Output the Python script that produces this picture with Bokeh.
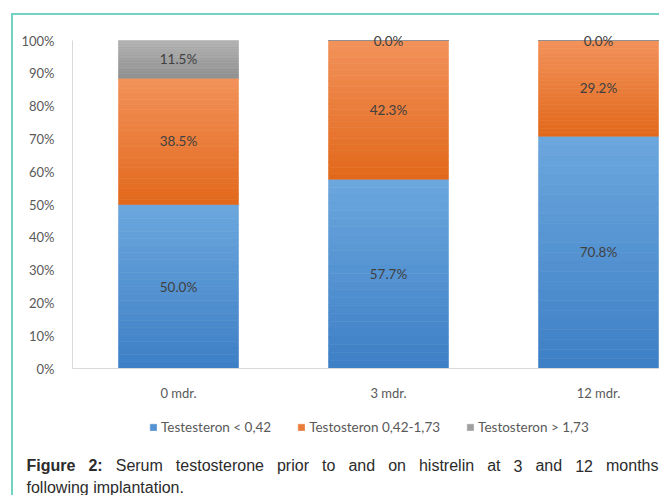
import numpy as np
from bokeh.plotting import figure
from bokeh.layouts import column
from bokeh.models import (ColumnDataSource, Range1d, FixedTicker, Legend, LegendItem,
                          Label, LabelSet)
from bokeh.embed import file_html
from bokeh.resources import INLINE
from bokeh.core.properties import value

# ---------------- data ----------------
categories = ["0 mdr.", "3 mdr.", "12 mdr."]
series_names = ["Testesteron < 0,42", "Testosteron 0,42-1,73", "Testosteron > 1,73"]
low_vals = [50.0, 57.7, 70.8]
mid_vals = [38.5, 42.3, 29.2]
high_vals = [11.5, 0.0, 0.0]
y_tick_values = [0, 10, 20, 30, 40, 50, 60, 70, 80, 90, 100]
y_tick_labels = ["0%", "10%", "20%", "30%", "40%", "50%", "60%", "70%", "80%", "90%", "100%"]
caption_bold = "Figure 2:"
caption_line1 = "Serum testosterone prior to and on histrelin at 3 and 12 months"
caption_line2 = "following implantation."

# ---------------- styles / layout ----------------
top_colors = ["#6ca7de", "#f2925a", "#b2b2b2"]
bottom_colors = ["#3d7fc5", "#e2681b", "#8f8f8f"]
CHART_FONT = "Lato"
CAP_FONT = "Liberation Sans"
BAR_W = 0.571
N_BANDS = 24
W, H = 659, 495
# pixel geometry of the plot area inside the canvas
PX_LEFT, PX_TOP, PX_ZERO = 72, 40, 368
PX_CAT0, PX_STEP = 178, 210
px_per_pct = (PX_ZERO - PX_TOP) / 100.0
x_lo = (0 - PX_CAT0) / PX_STEP
x_hi = (W - PX_CAT0) / PX_STEP
y_hi = 100 + PX_TOP / px_per_pct
y_lo = -(H - PX_ZERO) / px_per_pct
yaxis_x = (PX_LEFT - PX_CAT0) / PX_STEP


def hex2rgb(h):
    h = h.lstrip("#")
    return np.array([int(h[i:i + 2], 16) for i in (0, 2, 4)], dtype=float)


def mix(c_top, c_bot, t):
    a, b = hex2rgb(c_top), hex2rgb(c_bot)
    c = a * (1 - t) + b * t
    return "#%02x%02x%02x" % tuple(int(round(v)) for v in c)


p = figure(width=W, height=H, output_backend="svg", toolbar_location=None,
           x_range=Range1d(x_lo, x_hi), y_range=Range1d(y_lo, y_hi),
           min_border_left=0, min_border_right=0, min_border_top=0, min_border_bottom=0)
p.border_fill_color = None
p.background_fill_color = None
p.outline_line_color = None
p.xgrid.visible = False
p.ygrid.visible = False

series = [low_vals, mid_vals, high_vals]
xs = list(range(len(categories)))
renderers = []
base = [0.0] * len(categories)
mids_all = []
for s, vals in enumerate(series):
    bx, bb, bt, bc = [], [], [], []
    for i, v in enumerate(vals):
        b0 = base[i]
        for k in range(N_BANDS):
            lo = b0 + v * (N_BANDS - 1 - k) / N_BANDS
            hi = b0 + v * (N_BANDS - k) / N_BANDS
            bx.append(xs[i])
            bb.append(lo)
            bt.append(hi)
            bc.append(mix(top_colors[s], bottom_colors[s], (k + 0.5) / N_BANDS))
    src = ColumnDataSource(dict(x=bx, bottom=bb, top=bt, color=bc))
    r = p.vbar(x="x", bottom="bottom", top="top", width=BAR_W, source=src,
               fill_color="color", line_color="color", line_width=0.6)
    renderers.append(r)
    mids_all.append([base[i] + vals[i] / 2 for i in range(len(vals))])
    base = [base[i] + vals[i] for i in range(len(vals))]

# data labels
lx, ly, lt = [], [], []
for s, vals in enumerate(series):
    for i, v in enumerate(vals):
        lx.append(xs[i])
        ly.append(mids_all[s][i])
        lt.append(f"{v:.1f}%")
lab_src = ColumnDataSource(dict(x=lx, y=ly, t=lt))
p.add_layout(LabelSet(x="x", y="y", text="t", source=lab_src, text_align="center",
                      text_baseline="middle", text_font=value(CHART_FONT),
                      text_font_size="13.5px", text_color="#404040"))

# axes (placed at data locations so that the whole canvas is the plot area)
p.xaxis.fixed_location = 0
p.xaxis.ticker = FixedTicker(ticks=xs)
p.xaxis.major_label_overrides = {i: c for i, c in zip(xs, categories)}
p.xaxis.minor_tick_line_color = None
p.xaxis.major_tick_line_color = None
p.xaxis.axis_line_color = "#d9d9d9"
p.xaxis.major_label_standoff = 10
p.xaxis.major_label_text_font = CHART_FONT
p.xaxis.major_label_text_font_size = "13px"
p.xaxis.major_label_text_color = "#595959"
p.xaxis.bounds = (yaxis_x, x_hi)

p.yaxis.fixed_location = yaxis_x
p.yaxis.ticker = FixedTicker(ticks=y_tick_values)
p.yaxis.major_label_overrides = {v: l for v, l in zip(y_tick_values, y_tick_labels)}
p.yaxis.minor_tick_line_color = None
p.yaxis.major_tick_line_color = None
p.yaxis.axis_line_color = "#d9d9d9"
p.yaxis.major_label_standoff = 12
p.yaxis.major_label_text_font = CHART_FONT
p.yaxis.major_label_text_font_size = "13px"
p.yaxis.major_label_text_color = "#595959"
p.yaxis.bounds = (0, 100)

# legend
items = [LegendItem(label=n, renderers=[r], index=N_BANDS // 2) for n, r in zip(series_names, renderers)]
legend = Legend(items=items, orientation="horizontal", location=(149, 60),
                glyph_width=8, glyph_height=8, label_standoff=4, spacing=26,
                padding=0, margin=0, border_line_color=None, background_fill_color=None,
                label_text_font=CHART_FONT, label_text_font_size="13.5px",
                label_text_color="#595959")
p.add_layout(legend, "center")

# caption, first line justified
AR = {" ": 278, "S": 667, "e": 556, "r": 333, "u": 556, "m": 833, "t": 278, "s": 500, "o": 556,
      "n": 556, "p": 556, "i": 222, "a": 556, "d": 556, "h": 556, "l": 222, "3": 556, "1": 556,
      "2": 556, "f": 278, "w": 722, "g": 556, "c": 500, ".": 278, ":": 278}
ARB = {"F": 611, "i": 278, "g": 611, "u": 611, "r": 389, "e": 556, " ": 278, "2": 556, ":": 333}
CAP_SIZE = 16


def tw(word, bold):
    tbl = ARB if bold else AR
    return sum(tbl.get(ch, 556) for ch in word) / 1000 * CAP_SIZE


words = [(w, True) for w in caption_bold.split()] + [(w, False) for w in caption_line1.split()]
x_start, x_end = 26, 658
total = sum(tw(w, b) for w, b in words)
gap = (x_end - x_start - total) / (len(words) - 1)
cx = x_start
line1_y = H - 465
line2_y = H - 487
for w, b in words:
    p.add_layout(Label(x=cx, y=line1_y, x_units="screen", y_units="screen", text=w,
                       text_font=CAP_FONT, text_font_size=f"{CAP_SIZE}px",
                       text_font_style="bold" if b else "normal", text_color="#2b2b2b",
                       text_baseline="middle", text_align="left"))
    cx += tw(w, b) + gap
p.add_layout(Label(x=x_start, y=line2_y, x_units="screen", y_units="screen", text=caption_line2,
                   text_font=CAP_FONT, text_font_size=f"{CAP_SIZE}px",
                   text_color="#2b2b2b", text_baseline="middle", text_align="left"))

teal = "#72d2c4"
layout = column(p, spacing=0)
layout.styles = {
    "background": (f"linear-gradient({teal},{teal}) 11px 13px / 100% 2px no-repeat, "
                   f"linear-gradient({teal},{teal}) 11px 13px / 2px 100% no-repeat, white")
}

open("out.html", "w").write(file_html(layout, INLINE))
